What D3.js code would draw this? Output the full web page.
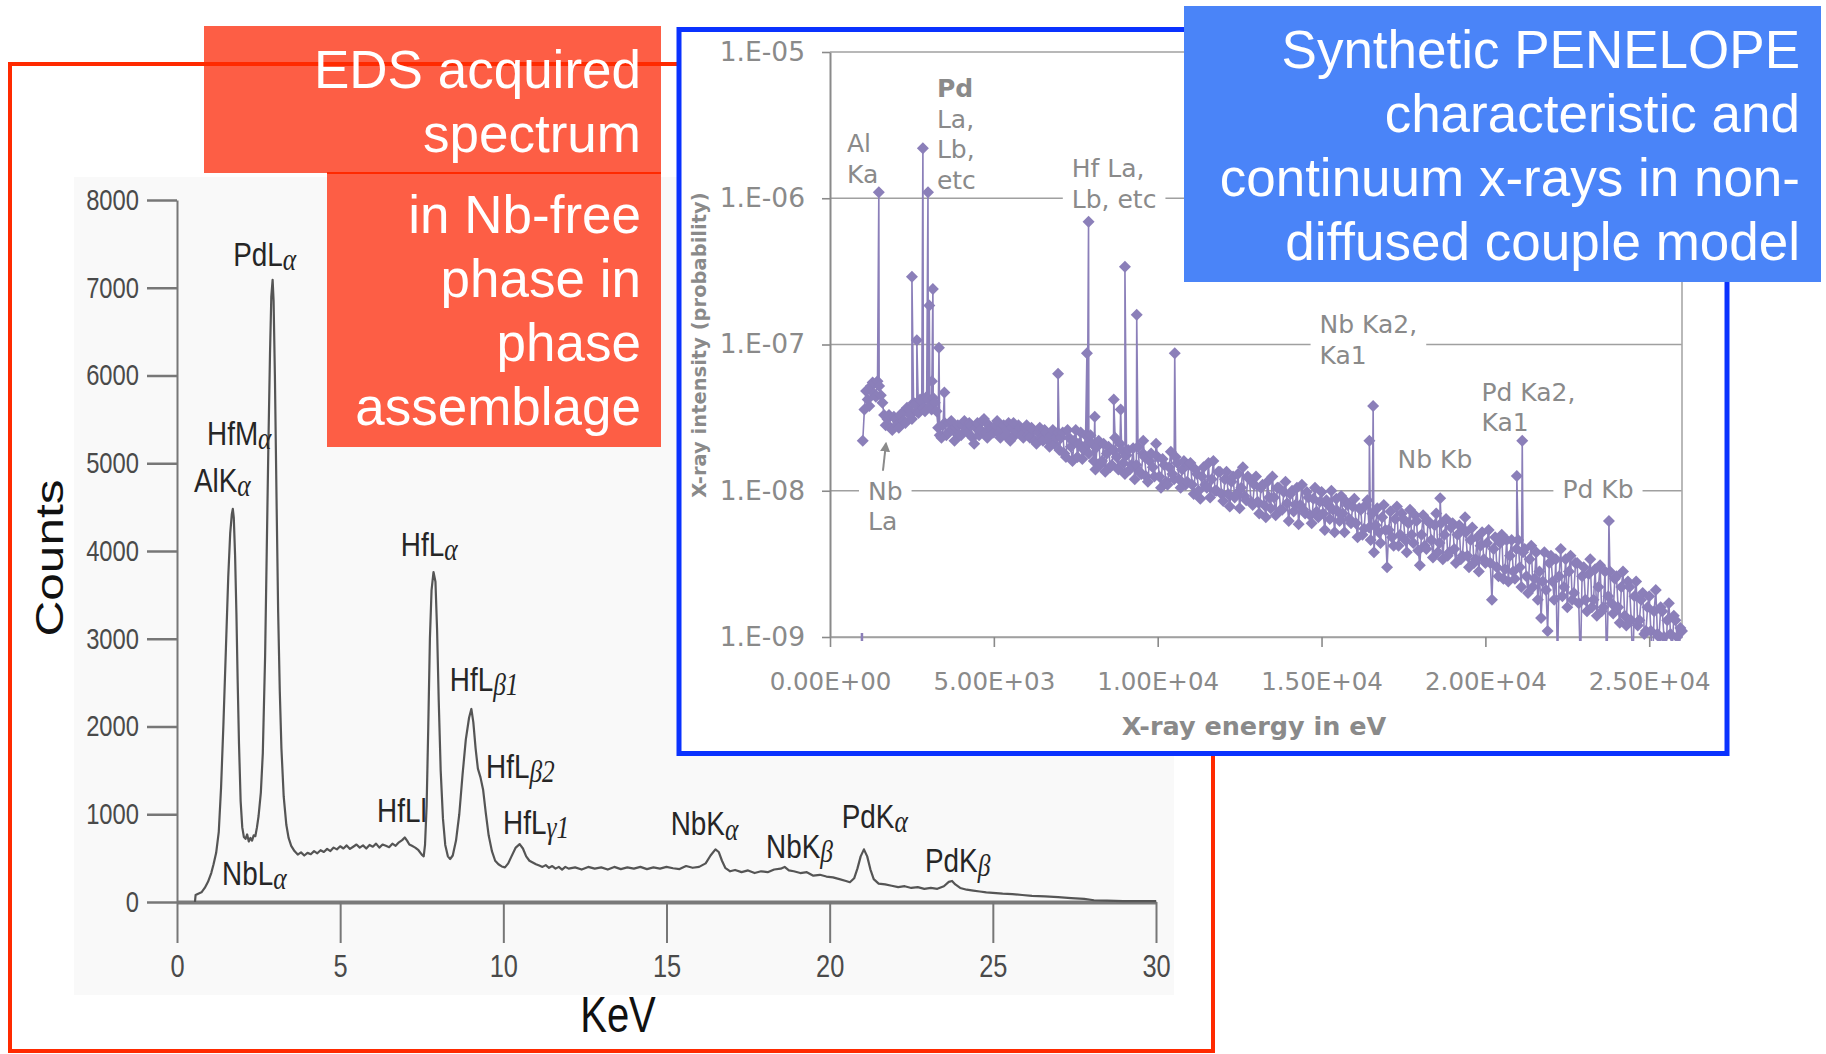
<!DOCTYPE html>
<html>
<head>
<meta charset="utf-8">
<script src="https://cdn.jsdelivr.net/npm/d3@7"></script>
<style>
  body { margin: 0; background: #fff; }
  svg { display: block; }
</style>
</head>
<body>
<div id="chart"></div>
<script>
/* * * * * * * * * * * * * * * * * * *
*  EDS spectrum vs PENELOPE spectrum  *
* * * * * * * * * * * * * * * * * * * */

// ---- left panel: EDS acquired spectrum (keV, counts) ----
const edsEnergy = [0.55, 0.57, 0.65, 0.75, 0.85, 0.95, 1.05, 1.12, 1.2, 1.28, 1.35, 1.42, 1.5, 1.57, 1.63, 1.68, 1.71, 1.74, 1.78, 1.82,
    1.86, 1.9, 1.95, 2.0, 2.05, 2.1, 2.15, 2.2, 2.25, 2.3, 2.35, 2.4, 2.45, 2.5, 2.57, 2.63, 2.7, 2.75, 2.8, 2.85,
    2.89, 2.93, 2.96, 3.0, 3.05, 3.1, 3.15, 3.2, 3.27, 3.35, 3.42, 3.5, 3.6, 3.7, 3.8, 3.9, 4.0, 4.1, 4.2, 4.3,
    4.4, 4.5, 4.6, 4.7, 4.8, 4.9, 5.0, 5.1, 5.2, 5.3, 5.4, 5.5, 5.6, 5.7, 5.8, 5.9, 6.0, 6.1, 6.2, 6.3,
    6.4, 6.5, 6.6, 6.7, 6.8, 6.9, 6.98, 7.05, 7.12, 7.2, 7.3, 7.4, 7.5, 7.56, 7.6, 7.65, 7.7, 7.75, 7.8, 7.86,
    7.92, 7.97, 8.02, 8.08, 8.15, 8.22, 8.3, 8.37, 8.45, 8.55, 8.65, 8.75, 8.85, 8.95, 9.02, 9.08, 9.15, 9.22, 9.3, 9.38,
    9.46, 9.55, 9.65, 9.75, 9.85, 9.95, 10.05, 10.15, 10.25, 10.38, 10.5, 10.6, 10.7, 10.8, 10.9, 11.0, 11.1, 11.2, 11.3, 11.4,
    11.5, 11.6, 11.7, 11.8, 11.9, 12.0, 12.2, 12.4, 12.6, 12.8, 13.0, 13.2, 13.4, 13.6, 13.8, 14.0, 14.2, 14.4, 14.6, 14.8,
    15.0, 15.2, 15.4, 15.6, 15.8, 16.0, 16.2, 16.35, 16.5, 16.6, 16.7, 16.8, 16.95, 17.1, 17.3, 17.5, 17.7, 17.9, 18.1, 18.3,
    18.5, 18.62, 18.75, 18.9, 19.1, 19.3, 19.5, 19.7, 19.9, 20.1, 20.3, 20.5, 20.62, 20.75, 20.85, 20.95, 21.05, 21.15, 21.25, 21.35,
    21.5, 21.7, 21.9, 22.1, 22.3, 22.5, 22.7, 22.9, 23.1, 23.3, 23.5, 23.65, 23.75, 23.85, 24.0, 24.2, 24.4, 24.6, 24.8, 25.0,
    25.3, 25.6, 25.9, 26.2, 26.6, 27.0, 27.4, 27.8, 28.1, 28.5, 29.0, 30.0];
const edsCounts = [0, 80, 95, 110, 160, 230, 330, 430, 560, 800, 1300, 2000, 2900, 3700, 4200, 4420, 4480, 4380, 3950, 3300,
    2500, 1800, 1150, 850, 740, 720, 770, 690, 730, 700, 760, 750, 850, 980, 1250, 1700, 2800, 4000, 5200, 6250,
    6900, 7090, 6850, 6000, 4600, 3300, 2400, 1750, 1200, 880, 730, 640, 580, 540, 565, 530, 560, 545, 580, 555,
    590, 570, 605, 580, 620, 600, 635, 610, 645, 605, 630, 655, 620, 645, 610, 650, 630, 665, 620, 655,
    640, 625, 665, 640, 680, 705, 735, 700, 655, 640, 620, 590, 540, 520, 650, 1100, 2000, 3000, 3550, 3760,
    3650, 3100, 2300, 1500, 950, 650, 520, 490, 530, 700, 1000, 1450, 1850, 2100, 2200, 2050, 1750, 1520, 1420, 1280,
    1020, 760, 580, 470, 430, 405, 395, 440, 520, 620, 660, 610, 520, 470, 450, 430, 415, 400, 420, 390,
    410, 380, 400, 370, 400, 380, 395, 370, 400, 380, 395, 370, 400, 375, 395, 380, 400, 375, 395, 380,
    400, 385, 375, 410, 390, 400, 440, 530, 600, 570, 470, 390, 350, 365, 340, 360, 330, 350, 340, 370,
    380, 400, 360, 350, 330, 340, 300, 310, 290, 280, 260, 240, 225, 270, 380, 520, 600, 520, 370, 260,
    210, 200, 185, 170, 180, 160, 170, 150, 160, 150, 180, 230, 240, 200, 160, 140, 130, 120, 110, 105,
    95, 90, 80, 70, 65, 55, 45, 35, 20, 15, 10, 10];
const edsTicksY = [0, 1000, 2000, 3000, 4000, 5000, 6000, 7000, 8000];
const edsTicksX = [0, 5, 10, 15, 20, 25, 30];
// peak labels: main text, subscript, anchor (keV, counts)
const edsLabelMain = ["PdL", "HfM", "AlK", "HfL", "HfL", "HfL", "HfLl", "HfL", "NbL", "NbK", "NbK", "PdK", "PdK"];
const edsLabelSub = ["α", "α", "α", "α", "β1", "β2", "", "γ1", "α", "α", "β", "α", "β"];
const edsLabelKeV = [1.72, 0.92, 0.52, 6.86, 8.36, 9.47, 6.13, 9.99, 1.38, 15.13, 18.05, 20.37, 22.92];
const edsLabelCounts = [7250, 5212, 4676, 3947, 2409, 1418, 917, 780, 199, 758, 507, 849, 347];

// ---- right panel: synthetic PENELOPE spectrum (eV, probability) ----
// continuum read as two interleaved channel sets, 100 eV apart, values in units of 1e-9
const simStartEv = 1000;     // first channel of simContinuum
const simMidStartEv = 1050;  // first channel of simContinuumMid
const simStepEv = 100;
const simContinuum = [
    22, 48, 38, 55, 44, 52, 40, 28, 33, 26,
    31, 27, 34, 29, 36, 31, 39, 34, 41, 35,
    42, 36, 40, 27, 23, 29, 25, 30, 22, 28,
    24, 30, 25, 28, 21, 29, 26, 31, 23, 27,
    25, 30, 23, 28, 26, 22, 29, 25, 27, 23,
    28, 23, 26, 21, 27, 22, 25, 20, 26, 23,
    19, 25, 17, 23, 16, 26, 21, 16.5, 24, 18,
    21, 14, 22, 16, 13.5, 20, 15, 23, 14, 19,
    13, 19, 15, 12, 20, 13, 17, 11.5, 18, 12.5,
    17, 10.5, 15, 11, 18.5, 12, 15.5, 10.5, 16, 11.5,
    15.5, 9.5, 13, 8.8, 14.5, 10.5, 9, 16, 10, 13.5,
    8.5, 13.5, 7.8, 12.5, 9.5, 7.6, 14.5, 8.6, 12, 8,
    12.5, 7, 11, 6.6, 9, 12.5, 6.8, 10.5, 7.4, 11.5,
    6.2, 10, 8, 5.9, 11, 7, 9, 6, 10.5, 6.6,
    9.8, 5.4, 8, 10, 5.2, 7.2, 9.2, 5.2, 8, 6,
    8.8, 4.8, 7.4, 5.5, 8.6, 4.6, 3.8, 7.6, 4.4, 8,
    3.0, 7.2, 4.2, 7.8, 5, 6.4, 3.8, 7.4, 4.4, 6.2,
    3.1, 6.8, 4, 6, 3.5, 7, 4.4, 3.4, 6.4, 3.8,
    6, 3.2, 5.8, 3.6, 5.2, 3, 5.6, 3.4, 2.8, 5.2,
    3.2, 5.4, 1.8, 4.8, 2.6, 5, 2.9, 2.4, 4.6, 2.5,
    4.6, 2.2, 4, 2, 4.2, 2.5, 1.8, 1.35, 3.8, 1.1,
    3.6, 1.8, 0.6, 4, 2.2, 1.6, 3.6, 2, 3.2, 0.6,
    3, 1.5, 3.4, 1.8, 1.4, 3.1, 1.6, 0.6, 2.8, 1.45,
    2.6, 1.25, 2.8, 1.2, 2.2, 0.6, 2.4, 1.3, 2, 1.1,
    1.9, 0.6, 2.1, 1.0, 1.5, 0.6, 1.7, 0.8, 1.3, 0.6,
    1.1];
const simContinuumMid = [
    36, 42, 52, 46, 56, 45, 33, 31, 27, 32,
    28, 33, 30, 37, 33, 40, 35, 42, 37, 44,
    38, 43, 35, 24, 28, 24, 29, 26, 27, 24,
    28, 26, 29, 23, 27, 24, 30, 25, 28, 25,
    28, 25, 27, 24, 29, 27, 24, 28, 24, 27,
    24, 27, 22, 25, 23, 26, 22, 24, 21, 25,
    23, 18, 26, 20, 22, 17, 25, 19, 21, 24,
    16, 20, 15, 21, 18, 14.5, 19, 17, 21, 15.5,
    17.5, 14, 19.5, 15, 13.5, 18, 12.5, 16, 14.5, 21,
    12.5, 16.5, 11.5, 14.5, 13, 17, 12, 14, 11, 15,
    11, 14, 10, 12.5, 11, 15.5, 12, 10, 13.5, 9.5,
    12, 9.5, 11.5, 9, 13, 10.5, 9.2, 12.5, 8.4, 11,
    8.4, 10.5, 8, 11.5, 7.6, 9, 10.5, 7.4, 9.8, 8.2,
    9.5, 7.2, 10.5, 8, 7.4, 9.8, 6.8, 8.8, 7.2, 8.4,
    7, 8.6, 6.4, 7.4, 8.8, 6.2, 7, 8.4, 6.4, 7.8,
    6, 7.6, 5, 8, 5.6, 7, 5.8, 5.2, 6.6, 5.4,
    5.4, 4.8, 6.4, 4.2, 7, 4.6, 6, 5, 6.8, 3.9,
    5, 4.2, 6.2, 4.6, 5.8, 3.8, 6, 5, 3.6, 5.6,
    4, 5, 3.4, 5.4, 3.6, 4.6, 3.2, 4.8, 4.2, 3.4,
    4.4, 3.2, 4, 3, 4.4, 2.5, 4.6, 3.6, 2.8, 4,
    3, 3.8, 2.6, 3.4, 2.2, 3.8, 2.8, 2.4, 2.1, 3.2,
    2.4, 3.4, 2.6, 1.9, 3.4, 2.8, 1.8, 3.2, 1.7, 2.6,
    1.8, 2.7, 1.6, 2.9, 2.2, 1.5, 2.8, 1.9, 1.7, 2.5,
    1.6, 2.2, 1.4, 2.4, 1.3, 1.9, 1.2, 1.8, 1.05, 1.6,
    1.1, 1.5, 1.05, 1.6, 1.0, 1.3, 1.05, 1.4, 1.0, 1.15];
// characteristic lines (eV, units of 1e-9)
const lineEnergy = [1490, 2500, 2650, 2835, 2990, 3030, 3110, 3140, 3325, 3490, 6960, 7840, 7890, 8080, 8660, 8870,
    9000, 9360, 9560, 10520, 16460, 16575, 18620, 19380, 20960, 21125, 23770];
const lineIntensity = [1100, 290, 107, 2200, 1100, 185, 56, 240, 95, 47, 63, 87, 690, 32, 42, 36,
    340, 160, 22, 87, 22, 38, 8.9, 6.6, 12.6, 22, 6.2];
// lone channel sitting on the axis
const simLowEv = 975;
const simLowValue = 1.0e-9;

const simTicksY = [1e-5, 1e-6, 1e-7, 1e-8, 1e-9];
const simTickLabelsY = ["1.E-05", "1.E-06", "1.E-07", "1.E-08", "1.E-09"];
const simTicksX = [0, 5000, 10000, 15000, 20000, 25000];
const simTickLabelsX = ["0.00E+00", "5.00E+03", "1.00E+04", "1.50E+04", "2.00E+04", "2.50E+04"];
// annotations: text lines, anchor (eV, probability)
const simNoteLines = [["Al", "Ka"], ["Pd", "La,", "Lb,", "etc"], ["Hf La,", "Lb, etc"], ["Nb Ka2,", "Ka1"],
    ["Pd Ka2,", "Ka1"], ["Nb Kb"], ["Pd Kb"], ["Nb", "La"]];
const simNoteEv = [518, 3262, 7379, 14940, 19880, 17318, 22350, 1159];
const simNoteVal = [2.07e-6, 4.92e-6, 1.39e-6, 1.19e-7, 4.13e-8, 1.42e-8, 8.95e-9, 8.67e-9];
const simNoteMask = [false, false, true, true, false, false, true, true];
const simNoteBold = [false, true, false, false, false, false, false, false];
const simArrowEv = [1616, 1707];
const simArrowVal = [1.37e-8, 2.1e-8];

// captions
const edsCaptionTop = ["EDS acquired", "spectrum"];
const edsCaptionBottom = ["in Nb-free", "phase in", "phase", "assemblage"];
const simCaption = ["Synthetic PENELOPE", "characteristic and", "continuum x-rays in non-", "diffused couple model"];

// ---- styles ----
const SANS = "'Liberation Sans', Arial, Helvetica, sans-serif";
const SERIF = "'Liberation Serif', 'Times New Roman', serif";
const VERD = "'DejaVu Sans', Verdana, sans-serif";
const RED = "#ff2a00", BLUE = "#0a32ff", SALMON = "#fd5e45", SKY = "#4a84f8";
const PURPLE = "#8b7fb9", GREYTXT = "#8a8a8a";

const svg = d3.select("#chart").append("svg")
    .attr("width", 1826)
    .attr("height", 1054);

// condense like Arial Narrow
function squeeze(sel, k) {
    sel.each(function () {
        let t = d3.select(this);
        let x = +t.attr("x") || 0, y = +t.attr("y") || 0;
        t.attr("x", null).attr("y", null)
            .attr("transform", `translate(${x},${y}) scale(${k},1)`);
    });
}

/* ---------- left panel ---------- */
let left = svg.append("g").attr("class", "left");

left.append("rect")
    .attr("x", 74).attr("y", 177)
    .attr("width", 1100).attr("height", 818)
    .attr("fill", "#f9f9f9");

let xL = d3.scaleLinear().domain([0, 30]).range([177, 1156]);
let yL = d3.scaleLinear().domain([0, 8000]).range([902, 200]);

let yAxisL = left.append("g")
    .attr("transform", `translate(${xL(0)},0)`)
    .call(d3.axisLeft(yL).tickValues(edsTicksY).tickFormat(d3.format("d"))
        .tickSize(30).tickPadding(8).tickSizeOuter(0));
yAxisL.select(".domain").attr("stroke", "#777").attr("stroke-width", 2);
yAxisL.selectAll(".tick line").attr("stroke", "#777").attr("stroke-width", 2.5);
yAxisL.selectAll(".tick text")
    .attr("font-family", SANS).attr("font-size", 29).attr("fill", "#4a4a4a")
    .call(squeeze, 0.82);

let xAxisL = left.append("g")
    .attr("transform", `translate(0,${yL(0)})`)
    .call(d3.axisBottom(xL).tickValues(edsTicksX).tickFormat(d3.format("d"))
        .tickSize(41).tickPadding(12).tickSizeOuter(0));
xAxisL.select(".domain").attr("stroke", "#7a7a7a").attr("stroke-width", 4);
xAxisL.selectAll(".tick line").attr("stroke", "#777").attr("stroke-width", 2);
xAxisL.selectAll(".tick text")
    .attr("font-family", SANS).attr("font-size", 31).attr("fill", "#4a4a4a")
    .call(squeeze, 0.82);

let edsLine = d3.line()
    .x((d, i) => xL(edsEnergy[i]))
    .y(d => yL(d));

left.append("path")
    .datum(edsCounts)
    .attr("fill", "none")
    .attr("stroke", "#555")
    .attr("stroke-width", 2.2)
    .attr("stroke-linejoin", "round")
    .attr("d", edsLine);

// peak labels
edsLabelMain.forEach((m, i) => {
    let t = left.append("text")
        .attr("x", xL(edsLabelKeV[i]))
        .attr("y", yL(edsLabelCounts[i]))
        .attr("font-family", SANS)
        .attr("font-size", 34)
        .attr("fill", "#262626");
    t.append("tspan").text(m);
    if (edsLabelSub[i]) {
        t.append("tspan")
            .attr("font-family", SERIF)
            .attr("font-style", "italic")
            .attr("font-size", 31)
            .attr("dy", 4)
            .text(edsLabelSub[i]);
    }
    t.call(squeeze, 0.82);
});

left.append("text")
    .attr("transform", "translate(63,558) rotate(-90)")
    .attr("text-anchor", "middle")
    .attr("font-family", SANS)
    .attr("font-size", 38)
    .attr("textLength", 157)
    .attr("lengthAdjust", "spacingAndGlyphs")
    .attr("fill", "#111")
    .text("Counts");

left.append("text")
    .attr("x", 618).attr("y", 1032)
    .attr("text-anchor", "middle")
    .attr("font-family", SANS)
    .attr("font-size", 50)
    .attr("fill", "#111")
    .text("KeV")
    .call(squeeze, 0.8);

/* ---------- salmon caption boxes + red frame ---------- */
let capBoxes = svg.append("g").attr("class", "caption-boxes");
capBoxes.append("rect").attr("x", 204).attr("y", 26).attr("width", 457).attr("height", 147).attr("fill", SALMON);
capBoxes.append("rect").attr("x", 327).attr("y", 173).attr("width", 334).attr("height", 274).attr("fill", SALMON);
capBoxes.append("line").attr("x1", 327).attr("x2", 661).attr("y1", 173).attr("y2", 173)
    .attr("stroke", RED).attr("stroke-width", 2);

svg.append("rect")
    .attr("x", 10).attr("y", 64)
    .attr("width", 1203).attr("height", 987)
    .attr("fill", "none")
    .attr("stroke", RED)
    .attr("stroke-width", 4);

let capText = svg.append("g").attr("class", "caption-text");
capText.selectAll("text.top")
    .data(edsCaptionTop)
    .join("text")
    .attr("class", "top")
    .attr("x", 641)
    .attr("y", (d, i) => 88 + i * 64)
    .attr("text-anchor", "end")
    .attr("font-family", SANS)
    .attr("font-size", 53)
    .attr("fill", "#fff")
    .text(d => d);

capText.selectAll("text.bottom")
    .data(edsCaptionBottom)
    .join("text")
    .attr("class", "bottom")
    .attr("x", 641)
    .attr("y", (d, i) => 233 + i * 64)
    .attr("text-anchor", "end")
    .attr("font-family", SANS)
    .attr("font-size", 53)
    .attr("fill", "#fff")
    .text(d => d);

/* ---------- right panel ---------- */
let right = svg.append("g").attr("class", "right");

right.append("rect")
    .attr("x", 679).attr("y", 29.5)
    .attr("width", 1048).attr("height", 724)
    .attr("fill", "#fff")
    .attr("stroke", BLUE)
    .attr("stroke-width", 5);

let xR = d3.scaleLinear().domain([0, 26000]).range([830, 1682]);
let yR = d3.scaleLog().domain([1e-9, 1e-5]).range([637, 52]);

// gridlines
right.selectAll("line.grid")
    .data(simTicksY)
    .join("line")
    .attr("class", "grid")
    .attr("x1", xR(0)).attr("x2", xR(26000))
    .attr("y1", d => yR(d)).attr("y2", d => yR(d))
    .attr("stroke", "#a0a0a0")
    .attr("stroke-width", 1.6);

right.append("line")
    .attr("x1", xR(26000)).attr("x2", xR(26000))
    .attr("y1", yR(1e-5)).attr("y2", yR(1e-9))
    .attr("stroke", "#a8a8a8")
    .attr("stroke-width", 1.6);

let yAxisR = right.append("g")
    .attr("transform", `translate(${xR(0)},0)`)
    .call(d3.axisLeft(yR).tickValues(simTicksY).tickFormat((d, i) => simTickLabelsY[i])
        .tickSize(8).tickPadding(17).tickSizeOuter(0));
yAxisR.select(".domain").attr("stroke", "#8a8a8a").attr("stroke-width", 2);
yAxisR.selectAll(".tick line").attr("stroke", "#8a8a8a").attr("stroke-width", 1.6);
yAxisR.selectAll(".tick text")
    .attr("font-family", VERD).attr("font-size", 26.5).attr("fill", GREYTXT);

let xAxisR = right.append("g")
    .attr("transform", `translate(0,${yR(1e-9)})`)
    .call(d3.axisBottom(xR).tickValues(simTicksX).tickFormat((d, i) => simTickLabelsX[i])
        .tickSize(10).tickPadding(26).tickSizeOuter(0));
xAxisR.select(".domain").attr("stroke", "#a0a0a0").attr("stroke-width", 1.6);
xAxisR.selectAll(".tick line").attr("stroke", "#8a8a8a").attr("stroke-width", 1.6);
xAxisR.selectAll(".tick text")
    .attr("font-family", VERD).attr("font-size", 24.5).attr("fill", GREYTXT);

right.append("text")
    .attr("x", 1254).attr("y", 735)
    .attr("text-anchor", "middle")
    .attr("font-family", VERD)
    .attr("font-weight", "bold")
    .attr("font-size", 25.5)
    .attr("fill", GREYTXT)
    .text("X-ray energy in eV");

right.append("text")
    .attr("transform", "translate(706,345) rotate(-90)")
    .attr("text-anchor", "middle")
    .attr("font-family", VERD)
    .attr("font-weight", "bold")
    .attr("font-size", 19.5)
    .attr("fill", GREYTXT)
    .text("X-ray intensity (probability)");

// annotations: white masks go under the data, texts above it
let maskG = right.append("g").attr("class", "note-masks");

let simPts = simContinuum.map((v, i) => ({e: simStartEv + i * simStepEv, v: v * 1e-9}))
    .concat(simContinuumMid.map((v, i) => ({e: simMidStartEv + i * simStepEv, v: v * 1e-9})))
    .concat(lineEnergy.map((e, i) => ({e: e, v: lineIntensity[i] * 1e-9})))
    .sort((a, b) => a.e - b.e);

right.append("defs").append("clipPath")
    .attr("id", "plotclip")
    .append("rect")
    .attr("x", xR(0)).attr("y", yR(1e-5) - 8)
    .attr("width", xR(26000) - xR(0) + 8)
    .attr("height", yR(1e-9) - yR(1e-5) + 12);

let dataG = right.append("g").attr("clip-path", "url(#plotclip)");

let simLine = d3.line()
    .x(d => xR(d.e))
    .y(d => yR(d.v));

dataG.append("path")
    .datum(simPts)
    .attr("fill", "none")
    .attr("stroke", PURPLE)
    .attr("stroke-width", 1.6)
    .attr("d", simLine);

const diamond = {
    draw(ctx, size) {
        let r = Math.sqrt(size / 2);
        ctx.moveTo(0, -r);
        ctx.lineTo(r, 0);
        ctx.lineTo(0, r);
        ctx.lineTo(-r, 0);
        ctx.closePath();
    }
};

dataG.selectAll("path.pt")
    .data(simPts)
    .join("path")
    .attr("class", "pt")
    .attr("transform", d => `translate(${xR(d.e)},${yR(d.v)})`)
    .attr("d", d3.symbol().type(diamond).size(72))
    .attr("fill", PURPLE);

dataG.append("line")
    .attr("x1", xR(simLowEv)).attr("x2", xR(simLowEv))
    .attr("y1", yR(simLowValue) - 4).attr("y2", yR(simLowValue) + 5)
    .attr("stroke", PURPLE)
    .attr("stroke-width", 2.5);

// arrow under the Nb La note
right.append("defs").append("marker")
    .attr("id", "arrowhead")
    .attr("viewBox", "0 0 10 10")
    .attr("refX", 8).attr("refY", 5)
    .attr("markerWidth", 5).attr("markerHeight", 5)
    .attr("orient", "auto")
    .append("path")
    .attr("d", "M0,0L10,5L0,10Z")
    .attr("fill", "#8a8a8a");

right.append("line")
    .attr("x1", xR(simArrowEv[0])).attr("y1", yR(simArrowVal[0]))
    .attr("x2", xR(simArrowEv[1])).attr("y2", yR(simArrowVal[1]))
    .attr("stroke", "#8a8a8a")
    .attr("stroke-width", 2)
    .attr("marker-end", "url(#arrowhead)");

simNoteLines.forEach((lines, i) => {
    let t = right.append("text")
        .attr("font-family", VERD)
        .attr("font-size", 25)
        .attr("fill", GREYTXT);
    lines.forEach((ln, j) => {
        t.append("tspan")
            .attr("x", xR(simNoteEv[i]))
            .attr("y", yR(simNoteVal[i]) + j * 30.5)
            .attr("font-weight", simNoteBold[i] && j === 0 ? "bold" : null)
            .text(ln);
    });
    if (simNoteMask[i]) {
        let b = t.node().getBBox();
        maskG.append("rect")
            .attr("x", b.x - 9).attr("y", b.y - 2)
            .attr("width", b.width + 18).attr("height", b.height + 4)
            .attr("fill", "#fff");
    }
});

/* ---------- blue caption box ---------- */
let capB = svg.append("g").attr("class", "caption-blue");
capB.append("rect")
    .attr("x", 1184).attr("y", 6)
    .attr("width", 637).attr("height", 276)
    .attr("fill", SKY);

capB.selectAll("text")
    .data(simCaption)
    .join("text")
    .attr("x", 1800)
    .attr("y", (d, i) => 68 + i * 64)
    .attr("text-anchor", "end")
    .attr("font-family", SANS)
    .attr("font-size", 53)
    .attr("fill", "#fff")
    .text(d => d);
</script>
</body>
</html>
